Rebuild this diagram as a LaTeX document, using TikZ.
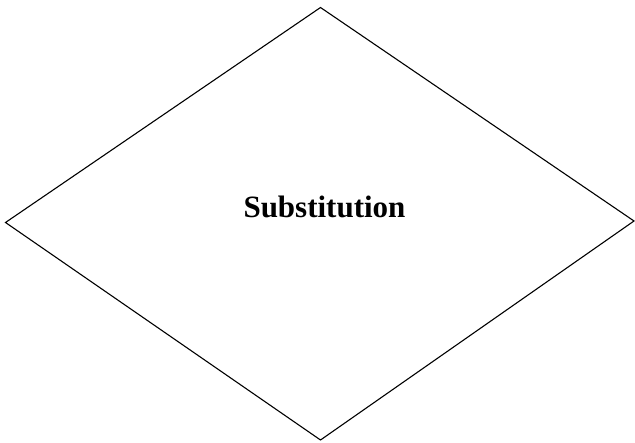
\documentclass[tikz,border=0pt]{standalone}
\usepackage{fontspec}
\setmainfont{Liberation Serif}
\begin{document}
\begin{tikzpicture}[x=1pt,y=-1pt,
  edge/.style={draw=black,line width=1.1pt,line join=miter},
  lbl/.style={font=\fontsize{31}{36}\selectfont\bfseries,inner sep=0pt,anchor=base}]
\useasboundingbox (0,0) rectangle (635,443);
\coordinate (t) at (320.5,7.5);
\coordinate (l) at (5.5,222.5);
\coordinate (r) at (634,221);
\coordinate (b) at (320.5,440);
\draw[edge] (t) -- (r) -- (b) -- (l) -- cycle;
\node[lbl] (s) at (324.5,218) {Substitution};
\end{tikzpicture}
\end{document}
